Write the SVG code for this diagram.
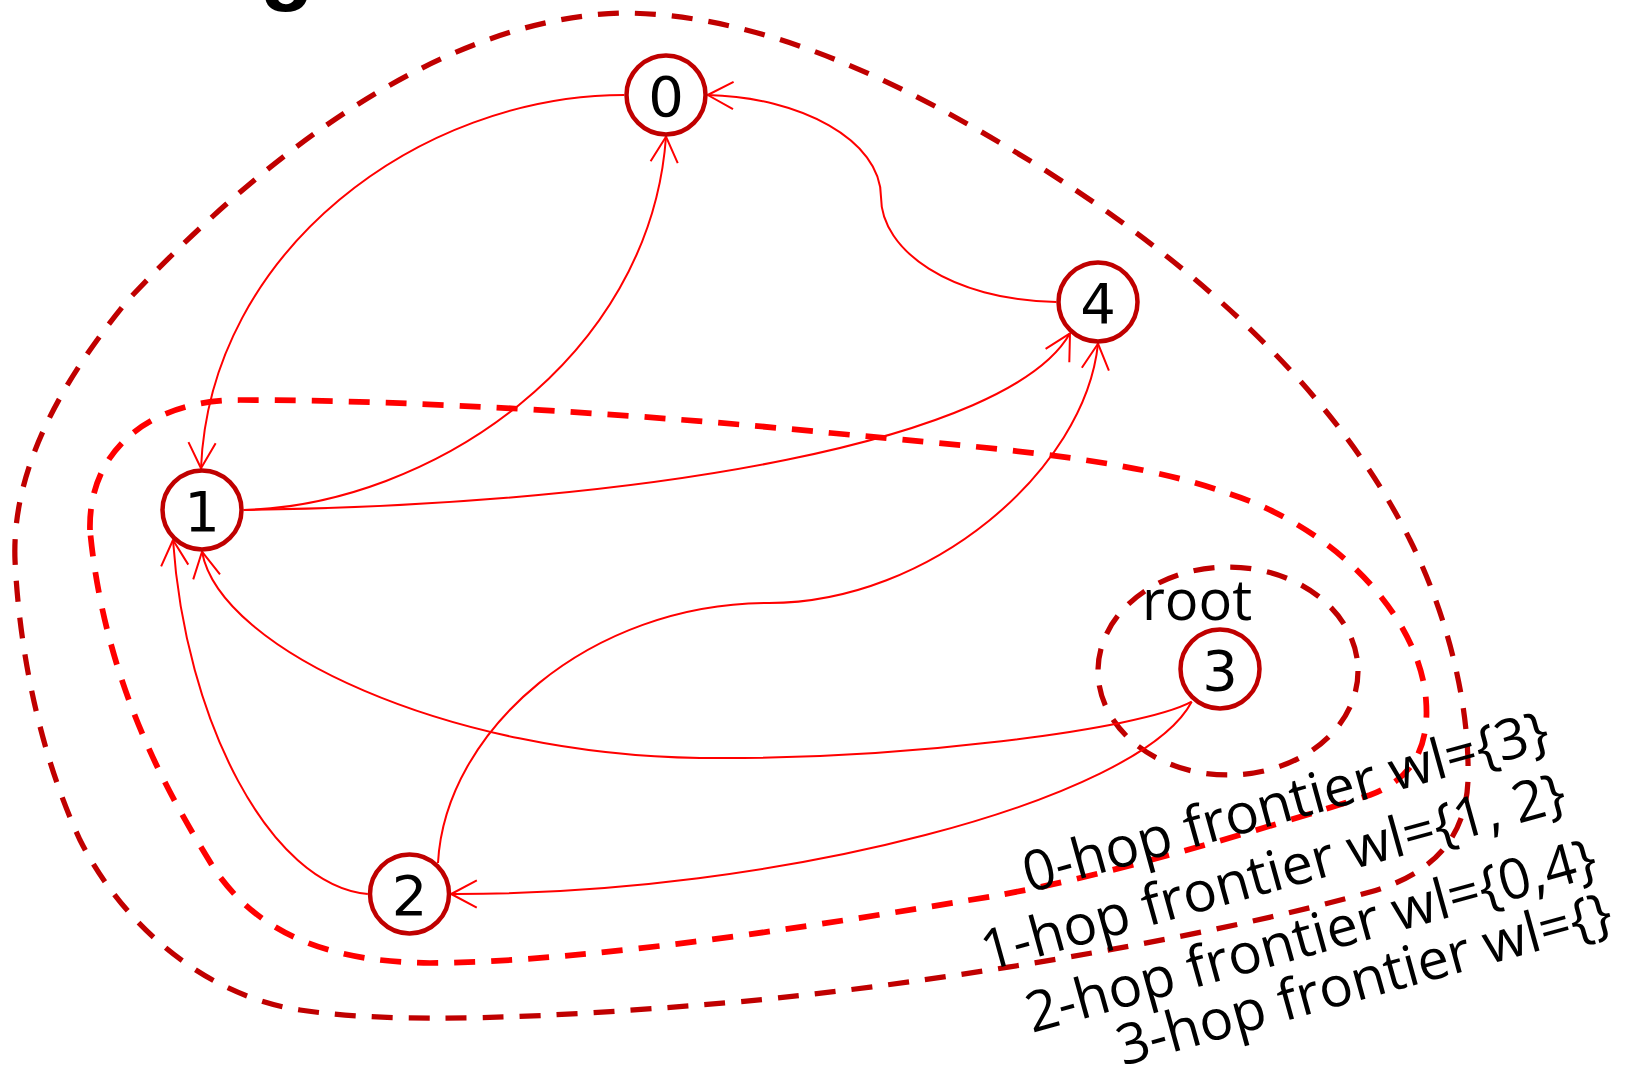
<svg xmlns="http://www.w3.org/2000/svg" width="1629" height="1069" viewBox="0 0 1629 1069">
<defs>
<style>
.node circle{fill:#fff;stroke:#C00000;stroke-width:4.5}
.node text{font-family:"DejaVu Sans",sans-serif;font-size:56px;fill:#000;text-anchor:middle}
.edge{fill:none;stroke:#FF0000;stroke-width:2;marker-end:url(#arr)}
.loop{fill:none;stroke-width:5.25;stroke-dasharray:21 16}
.dark{stroke:#C00000}
.bright{stroke:#FF0000;stroke-width:5.75}
.lbl{font-family:"Open Sans",sans-serif;font-size:56px;fill:#000}
</style>
<marker id="arr" markerUnits="userSpaceOnUse" markerWidth="40" markerHeight="40" viewBox="-30 -20 40 40" refX="0" refY="0" orient="auto" overflow="visible">
<path d="M-25.6,-13.6 L0,0 L-25.6,13.6" fill="none" stroke="#FF0000" stroke-width="2" stroke-linejoin="round"/>
</marker>
</defs>
<rect width="1629" height="1069" fill="#fff"/>
<text x="287" y="-6" font-family="Liberation Sans, sans-serif" font-weight="bold" font-size="88" text-anchor="middle">g</text>
<g id="frontiers">
<path class="loop dark" d="M15,560 C12,480 50,395 128,300 C250,170 430,20 620,13 C760,13 900,80 1040,167 C1180,255 1330,380 1410,540 C1445,610 1470,700 1468,780 C1466,840 1430,875 1370,892 C1200,940 900,990 700,1005 C550,1017 400,1025 300,1010 C200,995 120,920 80,840 C45,765 20,665 15,560 Z"/>
<path class="loop bright" d="M90,530 C88,450 150,400 240,400 C420,400 650,415 831,433 C1000,449 1130,458 1230,494 C1340,530 1420,620 1426,700 C1430,750 1410,780 1370,795 C1260,830 1110,875 1000,895 C850,920 600,962 430,963 C330,962 260,935 215,870 C175,805 105,690 90,530 Z"/>
<ellipse class="loop dark" cx="1228" cy="671" rx="130" ry="104"/>
</g>
<g id="edges">
<path class="edge" d="M624.3,95 C420,95 210,250 201,468.3"/>
<path class="edge" d="M243.7,510 C430,505 650,360 666,136.7"/>
<path class="edge" d="M1056.3,302 C950,300 881,250 881,197 C881,140 800,97 707.7,95"/>
<path class="edge" d="M243.7,510 C650,505 1010,440 1070,333.3"/>
<path class="edge" d="M438,863 C445,730 590,603 769,603 C930,603 1085,470 1098,343.7"/>
<path class="edge" d="M367.8,894 C270,885 185,720 173,540"/>
<path class="edge" d="M1191.7,701.7 C1140,730 900,760 700,758 C450,755 220,650 202,551.7"/>
<path class="edge" d="M1191.7,701.7 C1140,800 780,895 451.2,894"/>
</g>
<g id="node-0" class="node"><circle cx="666" cy="95" r="39.5"/><text x="666" y="115.5">0</text></g>
<g id="node-1" class="node"><circle cx="202" cy="510" r="39.5"/><text x="202" y="530.5">1</text></g>
<g id="node-2" class="node"><circle cx="409.5" cy="894" r="39.5"/><text x="409.5" y="914.5">2</text></g>
<g id="node-3" class="node"><circle cx="1220" cy="669" r="39.5"/><text x="1220" y="689.5">3</text></g>
<g id="node-4" class="node"><circle cx="1098" cy="302" r="39.5"/><text x="1098" y="322.5">4</text></g>
<g id="labels">
<text class="lbl" x="1197" y="620" text-anchor="middle" font-size="55">root</text>
<text class="lbl" x="1029" y="893" transform="rotate(-15.5 1029 893)">0-hop frontier wl={3}</text>
<text class="lbl" x="987" y="971" transform="rotate(-15.5 987 971)">1-hop frontier wl={1, 2}</text>
<text class="lbl" x="1032" y="1033" transform="rotate(-15.5 1032 1033)">2-hop frontier wl={0,4}</text>
<text class="lbl" x="1123" y="1066" transform="rotate(-15.5 1123 1066)">3-hop frontier wl={}</text>
</g>
</svg>
